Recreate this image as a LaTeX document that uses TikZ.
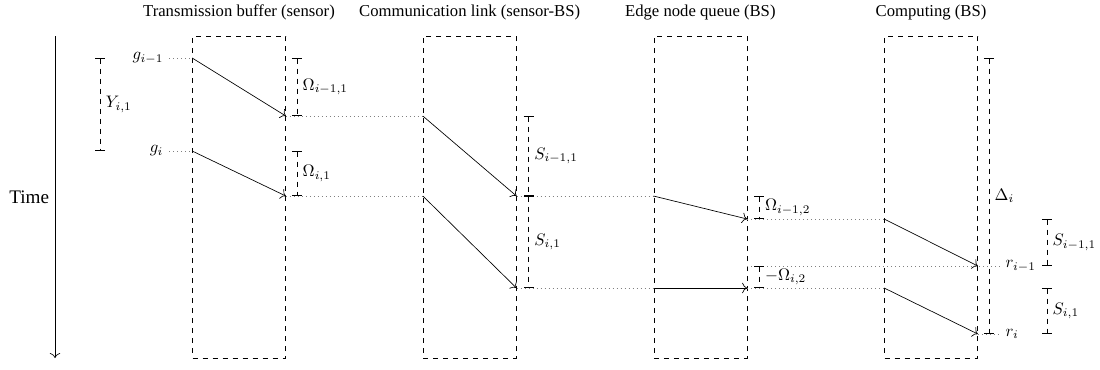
\documentclass[tikz,border=0pt]{standalone}
\usepackage{fontspec}
\setmainfont{Liberation Serif}
\usetikzlibrary{positioning,calc,arrows.meta}
\tikzset{ARROW/.style={-{To[length=3pt]}}}
\tikzset{STAGE/.style={rectangle, draw, dashed, minimum width=55.8pt, minimum height=193.2pt, inner sep=0pt}}
\tikzset{DOTS/.style={dotted, gray}}
\tikzset{SPAN/.style={dashed, {Bar[width=6pt]}-{Bar[width=6pt]}}}

\begin{document}
\begin{tikzpicture}[x=0.6pt, y=0.6pt]
    \useasboundingbox (0,0) rectangle (1100,369);

    % stages
    \node[STAGE] (buf) at (239,172) {};
    \node[STAGE, right=82.2pt of buf] (link) {};
    \node[STAGE, right=82.2pt of link] (queue) {};
    \node[STAGE, right=82.2pt of queue] (comp) {};
    \node[above=6pt of buf] (buf_title) {Transmission buffer (sensor)};
    \node[above=6pt of link] (link_title) {Communication link (sensor-BS)};
    \node[above=6pt of queue] (queue_title) {Edge node queue (BS)};
    \node[above=6pt of comp] (comp_title) {Computing (BS)};

    % time axis
    \coordinate (time_top) at (55,333);
    \coordinate (time_end) at (55,11);
    \draw[ARROW] (time_top) -- (time_end) node[midway,left,font=\fontsize{11.5pt}{14pt}\selectfont] (time_label) {Time};

    % event times
    \coordinate (t0) at (0,311);
    \coordinate (t1) at (0,253);
    \coordinate (t2) at (0,218);
    \coordinate (t3) at (0,173);
    \coordinate (t4) at (0,150);
    \coordinate (t5) at (0,103);
    \coordinate (t6) at (0,81);
    \coordinate (t7) at (0,35);

    \node[left] (g_prev) at ($(buf.west |- t0)+(-23,0)$) {$g_{i-1}$};
    \node[left] (g_cur) at ($(buf.west |- t2)+(-23,0)$) {$g_i$};
    \node[right] (r_prev) at ($(comp.east |- t5)+(22,0)$) {$r_{i-1}$};
    \node[right] (r_cur) at ($(comp.east |- t7)+(22,0)$) {$r_i$};

    % dotted guides
    \draw[DOTS] (g_prev.east) -- (buf.west |- t0);
    \draw[DOTS] (g_cur.east) -- (buf.west |- t2);
    \draw[DOTS] (buf.east |- t1) -- (link.west |- t1);
    \draw[DOTS] (buf.east |- t3) -- (link.west |- t3);
    \draw[DOTS] (link.east |- t3) -- (queue.west |- t3);
    \draw[DOTS] (link.east |- t6) -- (queue.west |- t6);
    \draw[DOTS] (queue.east |- t4) -- (comp.west |- t4);
    \draw[DOTS] (queue.east |- t5) -- (r_prev.west);
    \draw[DOTS] (queue.east |- t6) -- (comp.west |- t6);
    \draw[DOTS] (comp.east |- t7) -- (r_cur.west);

    % packets
    \draw[ARROW] (buf.west |- t0) -- (buf.east |- t1);
    \draw[ARROW] (buf.west |- t2) -- (buf.east |- t3);
    \draw[ARROW] (link.west |- t1) -- (link.east |- t3);
    \draw[ARROW] (link.west |- t3) -- (link.east |- t6);
    \draw[ARROW] (queue.west |- t3) -- (queue.east |- t4);
    \draw[ARROW] (queue.west |- t6) -- (queue.east |- t6);
    \draw[ARROW] (comp.west |- t4) -- (comp.east |- t5);
    \draw[ARROW] (comp.west |- t6) -- (comp.east |- t7);

    % intervals
    \draw[SPAN] ($(t0)+(100,0)$) -- ($(t2)+(100,0)$) node[midway,right] (Y_lab) {$Y_{i,1}$};
    \draw[SPAN] ($(buf.east |- t0)+(11,0)$) -- ($(buf.east |- t1)+(11,0)$) node[midway,right] (W1_prev) {$\Omega_{i-1,1}$};
    \draw[SPAN] ($(buf.east |- t2)+(11,0)$) -- ($(buf.east |- t3)+(11,0)$) node[midway,right] (W1_cur) {$\Omega_{i,1}$};
    \draw[SPAN] ($(link.east |- t1)+(12,0)$) -- ($(link.east |- t3)+(12,0)$) node[midway,right] (S_prev) {$S_{i-1,1}$};
    \draw[SPAN] ($(link.east |- t3)+(12,0)$) -- ($(link.east |- t6)+(12,0)$) node[midway,right] (S_cur) {$S_{i,1}$};
    \draw[SPAN] ($(queue.east |- t3)+(12,0)$) -- ($(queue.east |- t4)+(12,0)$) node[midway,right] (W2_prev) {$\Omega_{i-1,2}$};
    \draw[SPAN] ($(queue.east |- t5)+(12,0)$) -- ($(queue.east |- t6)+(12,0)$) node[midway,right] (W2_cur) {$-\Omega_{i,2}$};
    \draw[SPAN] ($(comp.east |- t0)+(11,0)$) -- ($(comp.east |- t7)+(11,0)$) node[midway,right] (D_lab) {$\Delta_i$};
    \draw[SPAN] ($(comp.east |- t4)+(69,0)$) -- ($(comp.east |- t5)+(69,0)$) node[midway,right] (C_prev) {$S_{i-1,1}$};
    \draw[SPAN] ($(comp.east |- t6)+(69,0)$) -- ($(comp.east |- t7)+(69,0)$) node[midway,right] (C_cur) {$S_{i,1}$};
\end{tikzpicture}
\end{document}
